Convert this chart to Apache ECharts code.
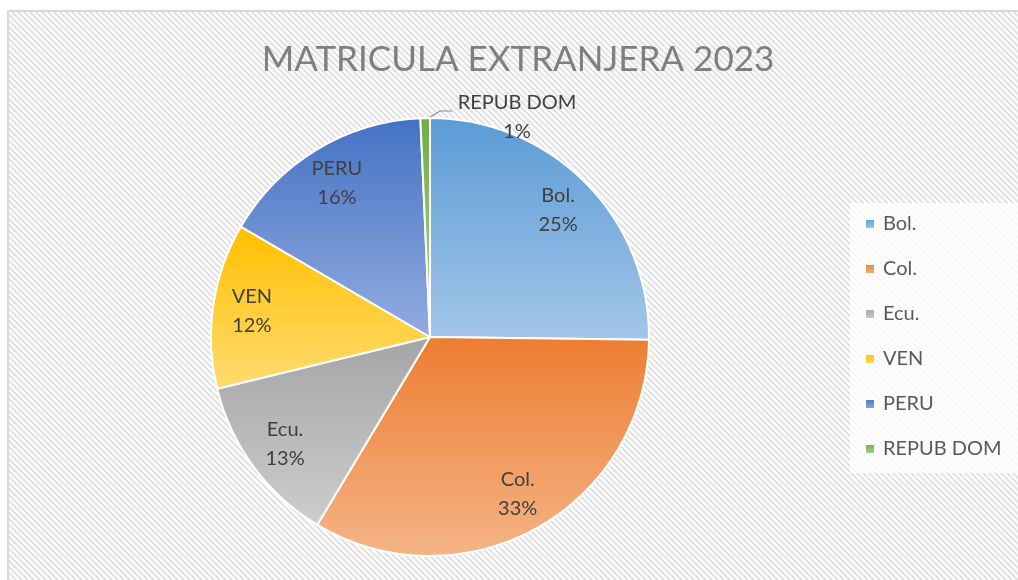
<!DOCTYPE html>
<html>
<head>
<meta charset="utf-8">
<title>Matricula extranjera 2023</title>
<script src="https://cdn.jsdelivr.net/npm/echarts@6/dist/echarts.min.js"></script>
<style>
  html, body { margin: 0; padding: 0; background: #fff; }
  #chart { width: 1018px; height: 580px; }
</style>
</head>
<body>
<div id="chart"></div>
<script>
// data (share of enrolment, %)
const countries = ['Bol.', 'Col.', 'Ecu.', 'VEN', 'PERU', 'REPUB DOM'];
const shares = [25.2, 33.4, 12.6, 12.2, 15.9, 0.7];
const topColors = ['#5b9bd5', '#ed7d31', '#a5a5a5', '#ffc000', '#4472c4', '#70ad47'];
const bottomColors = ['#a3c6e9', '#f5b487', '#cdcdcd', '#ffdb70', '#93acdf', '#acd391'];

const FONT = 'Lato, "Open Sans", sans-serif';

// diagonal hatch used as plot background
const makeHatch = () => {
  const c = document.createElement('canvas');
  c.width = 6;
  c.height = 6;
  const ctx = c.getContext('2d');
  ctx.fillStyle = '#ffffff';
  ctx.fillRect(0, 0, 6, 6);
  ctx.strokeStyle = '#e2e2e2';
  ctx.lineWidth = 2.2;
  for (let k = -1; k <= 1; k++) {
    ctx.beginPath();
    ctx.moveTo(k * 6 - 1, -1);
    ctx.lineTo(k * 6 + 7, 7);
    ctx.stroke();
  }
  return c;
};

const grad = (i) => new echarts.graphic.LinearGradient(0, 0, 0, 1, [
  { offset: 0, color: topColors[i] },
  { offset: 1, color: bottomColors[i] }
]);

const pieData = countries.map((name, i) => ({
  name,
  value: shares[i],
  itemStyle: { color: grad(i) }
}));

const SMALL = countries.length - 1; // REPUB DOM: label outside, to the right

// transparent ring on top, only to place labels at ~0.8 r
const labelData = countries.map((name, i) => {
  const item = { name, value: shares[i] };
  if (i === SMALL) {
    item.label = {
      position: 'outside',
      formatter: '{a|{b}}\n{a|{d}%}',
      rich: { a: { width: 120, align: 'center', fontSize: 20, lineHeight: 29, color: '#404040', fontFamily: FONT } }
    };
    item.labelLine = { show: true, lineStyle: { color: '#8c8c8c', width: 1.2 } };
  }
  return item;
});

const chart = echarts.init(document.getElementById('chart'));
chart.setOption({
  animation: false,
  backgroundColor: '#ffffff',
  graphic: [
    {
      type: 'rect',
      z: -10,
      shape: { x: 8, y: 11, width: 1030, height: 600 },
      style: {
        fill: { image: makeHatch(), repeat: 'repeat' },
        stroke: '#d9d9d9',
        lineWidth: 2
      }
    }
  ],
  title: {
    text: 'MATRICULA EXTRANJERA 2023',
    left: 518,
    top: 42,
    padding: 0,
    textAlign: 'center',
    textStyle: {
      fontFamily: FONT,
      fontWeight: 'normal',
      fontSize: 35,
      color: '#7f7f7f'
    }
  },
  legend: {
    orient: 'vertical',
    left: 850,
    top: 203,
    padding: [11, 160, 14, 14],
    backgroundColor: 'rgba(255,255,255,0.75)',
    itemWidth: 10,
    itemHeight: 10,
    itemGap: 25,
    icon: 'rect',
    data: countries,
    textStyle: {
      fontFamily: FONT,
      fontSize: 20,
      lineHeight: 20,
      color: '#595959',
      padding: [0, 0, 0, 3]
    }
  },
  series: [
    {
      type: 'pie',
      center: [430, 337],
      radius: [0, 219],
      startAngle: 90,
      clockwise: true,
      data: pieData,
      label: { show: false },
      labelLine: { show: false },
      itemStyle: { borderColor: '#ffffff', borderWidth: 2 },
      emphasis: { disabled: true }
    },
    {
      type: 'pie',
      center: [430, 337],
      radius: [135, 219],
      startAngle: 90,
      clockwise: true,
      silent: true,
      percentPrecision: 0,
      data: labelData,
      itemStyle: { color: 'transparent' },
      label: {
        show: true,
        position: 'inside',
        formatter: '{b}\n{d}%',
        fontFamily: FONT,
        fontSize: 20,
        lineHeight: 29,
        color: '#404040'
      },
      labelLine: { show: false },
      // the thin slice's label sits to the right of its tip, as in the source
      labelLayout: (p) => {
        if (p.dataIndex !== SMALL) return {};
        const tipX = p.rect.x + p.rect.width - 3;
        const tipY = p.rect.y + 1;
        return {
          x: tipX + 30,
          y: tipY - 2,
          align: 'left',
          verticalAlign: 'middle',
          labelLinePoints: [[tipX, tipY], [tipX + 13, tipY - 8], [tipX + 25, tipY - 8]]
        };
      },
      emphasis: { disabled: true }
    }
  ]
});
</script>
</body>
</html>
